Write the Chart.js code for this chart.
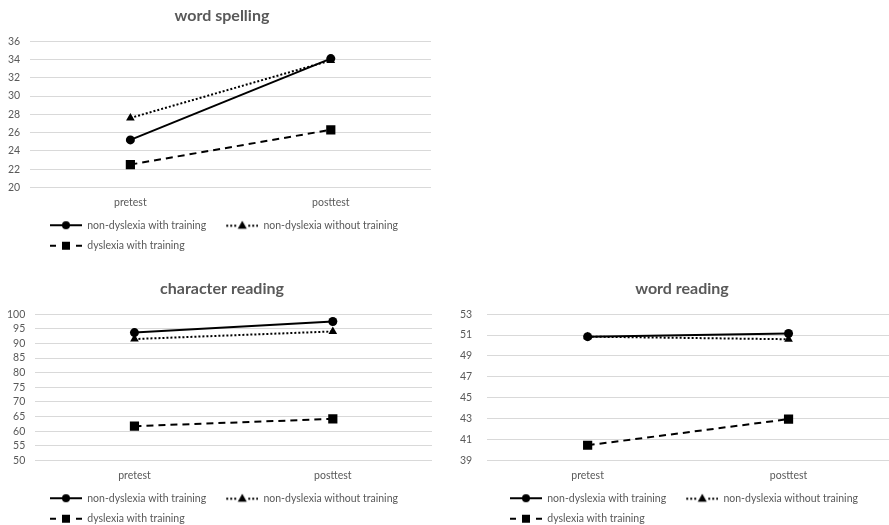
<!DOCTYPE html>
<html>
<head>
<meta charset="utf-8">
<script src="https://cdn.jsdelivr.net/npm/chart.js@4"></script>
<style>
  body { margin: 0; background: #fff; width: 889px; height: 525px; position: relative; overflow: hidden; }
  .box { position: absolute; }
</style>
</head>
<body>
<div class="box" style="left:-2px;top:0;width:441px;height:261px"><canvas id="spelling"></canvas></div>
<div class="box" style="left:-5px;top:273px;width:445px;height:261px"><canvas id="charReading"></canvas></div>
<div class="box" style="left:437px;top:273px;width:490px;height:261px"><canvas id="wordReading"></canvas></div>
<script>
// data
const categories = ['pretest', 'posttest'];
const seriesNames = ['non-dyslexia with training', 'non-dyslexia without training', 'dyslexia with training'];

const spellingWith = [25.2, 34.1];
const spellingWithout = [27.6, 33.9];
const spellingDyslexia = [22.5, 26.3];

const charWith = [93.7, 97.5];
const charWithout = [91.5, 94.1];
const charDyslexia = [61.7, 64.2];

const wordWith = [50.85, 51.15];
const wordWithout = [50.85, 50.6];
const wordDyslexia = [40.45, 42.95];

const grey = '#595959';
const fontFamily = 'Lato, "Open Sans", sans-serif';

const lineStyles = [
    { dash: [], point: 'circle', radius: 4.5 },
    { dash: [2, 2], point: 'triangle', radius: 5 },
    { dash: [7, 5], point: 'rect', radius: 6.5 }
];

// small picture for the legend: blank 10px, then line with the marker in the middle
function legendIcon(style) {
    const c = document.createElement('canvas');
    c.width = 42;
    c.height = 12;
    const ctx = c.getContext('2d');
    ctx.strokeStyle = '#000';
    ctx.fillStyle = '#000';
    ctx.lineWidth = 2;
    if (style.point === 'circle') {
        ctx.beginPath();
        ctx.moveTo(10, 6);
        ctx.lineTo(42, 6);
        ctx.stroke();
        ctx.beginPath();
        ctx.arc(26, 6, 4, 0, Math.PI * 2);
        ctx.fill();
    } else if (style.point === 'triangle') {
        ctx.setLineDash([2, 2]);
        ctx.beginPath();
        ctx.moveTo(10, 6.5);
        ctx.lineTo(21, 6.5);
        ctx.moveTo(32, 6.5);
        ctx.lineTo(42, 6.5);
        ctx.stroke();
        ctx.beginPath();
        ctx.moveTo(26, 1.5);
        ctx.lineTo(30.5, 9.5);
        ctx.lineTo(21.5, 9.5);
        ctx.closePath();
        ctx.fill();
    } else {
        ctx.beginPath();
        ctx.moveTo(10, 6);
        ctx.lineTo(16, 6);
        ctx.moveTo(36, 6);
        ctx.lineTo(42, 6);
        ctx.stroke();
        ctx.fillRect(22, 2, 8, 8);
    }
    return c;
}
const icons = lineStyles.map(legendIcon);

// Chart.js puts legend rows at legend.left + padding and centres the title on the
// padded width; move both to where the reference has them
const placeBlocks = {
    id: 'placeBlocks',
    beforeDraw(chart, args, opts) {
        chart.legend.left = opts.legendLeft;
        const t = chart.titleBlock;
        const w = t.right - t.left;
        t.left = opts.titleCenter - w / 2;
        t.right = t.left + w;
    }
};

function createChart(elementId, title, values, minY, maxY, step, padLeft, padRight, tickPad, legendLeft, titleCenter) {
    const ctx = document.getElementById(elementId).getContext('2d');
    new Chart(ctx, {
        type: 'line',
        data: {
            labels: categories,
            datasets: values.map((v, i) => ({
                label: seriesNames[i],
                data: v,
                borderColor: '#000',
                backgroundColor: '#000',
                borderWidth: 2,
                borderDash: lineStyles[i].dash,
                pointStyle: lineStyles[i].point,
                pointRadius: lineStyles[i].radius,
                pointBorderWidth: 0,
                fill: false
            }))
        },
        options: {
            responsive: true,
            maintainAspectRatio: false,
            animation: false,
            layout: { padding: { left: padLeft, right: padRight, top: 2, bottom: 0 } },
            plugins: {
                placeBlocks: { legendLeft: legendLeft, titleCenter: titleCenter },
                title: {
                    display: true,
                    text: title,
                    color: grey,
                    font: { family: fontFamily, size: 16, weight: 'bold' },
                    padding: { top: 4, bottom: 16 }
                },
                legend: {
                    position: 'bottom',
                    align: 'start',
                    labels: {
                        color: grey,
                        font: { family: fontFamily, size: 10.5 },
                        usePointStyle: true,
                        pointStyleWidth: 42,
                        padding: 10,
                        generateLabels(chart) {
                            const items = Chart.defaults.plugins.legend.labels.generateLabels(chart);
                            items.forEach((it, i) => { it.pointStyle = icons[i]; });
                            return items;
                        }
                    }
                },
                tooltip: { enabled: false }
            },
            scales: {
                x: {
                    offset: true,
                    grid: { display: false },
                    border: { display: false },
                    ticks: { color: grey, font: { family: fontFamily, size: 10.5 }, padding: 1 }
                },
                y: {
                    min: minY,
                    max: maxY,
                    grid: { color: '#d9d9d9', lineWidth: 1, drawTicks: false },
                    border: { display: false },
                    ticks: { stepSize: step, autoSkip: false, color: grey, font: { family: fontFamily, size: 10.5 }, padding: tickPad }
                }
            }
        },
        plugins: [placeBlocks]
    });
}

createChart('spelling', 'word spelling', [spellingWith, spellingWithout, spellingDyslexia], 20, 36, 2, 0, 8, 10, 32, 224);
createChart('charReading', 'character reading', [charWith, charWithout, charDyslexia], 50, 100, 5, 2, 8, 10, 35, 227);
createChart('wordReading', 'word reading', [wordWith, wordWithout, wordDyslexia], 39, 53, 2, 8, 38, 15, 53, 245);
</script>
</body>
</html>
